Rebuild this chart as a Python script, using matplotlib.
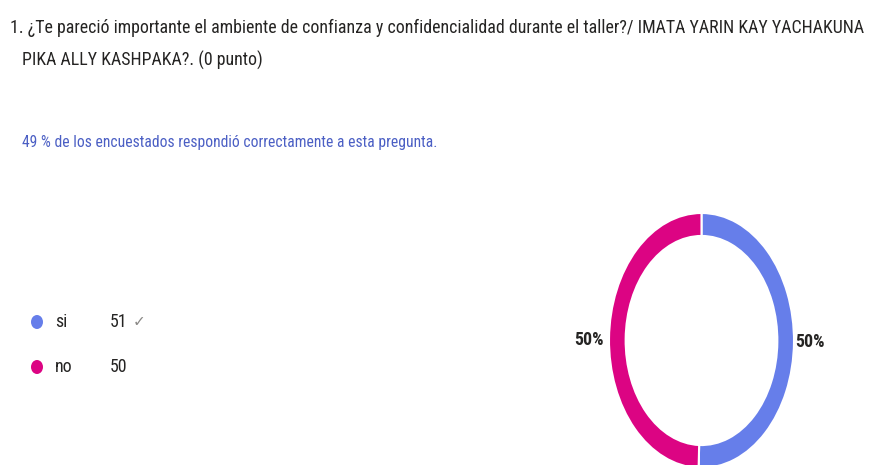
import matplotlib
matplotlib.use("Agg")
import matplotlib.pyplot as plt
from matplotlib import font_manager
from matplotlib.patches import Ellipse

categories = ["si", "no"]
values = [51, 50]
colors = ["#667eea", "#dc0483"]
title_lines = ["1. ¿Te pareció importante el ambiente de confianza y confidencialidad durante el taller?/ IMATA YARIN KAY YACHAKUNA",
               "PIKA ALLY KASHPAKA?. (0 punto)"]
subtitle = "49 % de los encuestados respondió correctamente a esta pregunta."

installed = {f.name for f in font_manager.fontManager.ttflist}
prefs = ['Liberation Sans Narrow', 'Roboto Condensed', 'Open Sans Condensed', 'Noto Sans Condensed',
         'DejaVu Sans Condensed', 'Noto Sans Display Condensed', 'Roboto', 'DejaVu Sans']
main = next(p for p in prefs if p in installed)
fam = [main, 'DejaVu Sans']

W, H = 877, 465
fig = plt.figure(figsize=(W/100, H/100), dpi=100)
renderer = fig.canvas.get_renderer()

def px(x, y):
    return x / W, 1 - y / H

def fit_text(x, y, s, target_w, size, **kw):
    t = fig.text(*px(x, y), s, fontsize=size, va="center", ha="left", family=fam, **kw)
    w = t.get_window_extent(renderer).width
    t.set_fontsize(size * target_w / w)
    return t

t1 = fit_text(10, 28, title_lines[0], 858, 12.5, color="#252423")
fs = t1.get_fontsize()
fig.text(*px(22, 60), title_lines[1], fontsize=fs, color="#252423", va="center", ha="left", family=fam)
fit_text(22, 142, subtitle, 418, 10.5, color="#4b5fc4")

ys = [322, 367]
lab_fs = fs * 1.0
for cat, v, c, y in zip(categories, values, colors, ys):
    fig.add_artist(Ellipse(px(37, y), 12 / W, 14 / H, transform=fig.transFigure,
                           facecolor=c, edgecolor="none"))
    fig.text(*px(55, y), cat, fontsize=lab_fs, color="#252423", va="center", ha="left", family=fam)
    fig.text(*px(110, y), str(v), fontsize=lab_fs, color="#252423", va="center", ha="left", family=fam)
fig.text(*px(133, 322), "✓", fontsize=11, color="#8a8886", va="center", ha="left", family=['DejaVu Sans'])

# donut
x0, x1, y0, y1 = 609, 794, 213, 468
ax = fig.add_axes([x0/W, 1 - y1/H, (x1-x0)/W, (y1-y0)/H])
wedges, _ = ax.pie(values, colors=colors, startangle=90, counterclock=False,
                   wedgeprops=dict(width=0.18, edgecolor="white", linewidth=1.5))
ax.set_aspect("auto")
ax.set_xlim(-1, 1)
ax.set_ylim(-1, 1)
ax.axis("off")

total = sum(values)
pcts = [f"{round(v/total*100)}%" for v in values]
fig.text(*px(810, 342), pcts[0], fontsize=lab_fs, color="#252423", va="center", ha="center", family=fam, weight="bold")
fig.text(*px(589, 340), pcts[1], fontsize=lab_fs, color="#252423", va="center", ha="center", family=fam, weight="bold")

fig.savefig("out.png", dpi=100, facecolor="white")
